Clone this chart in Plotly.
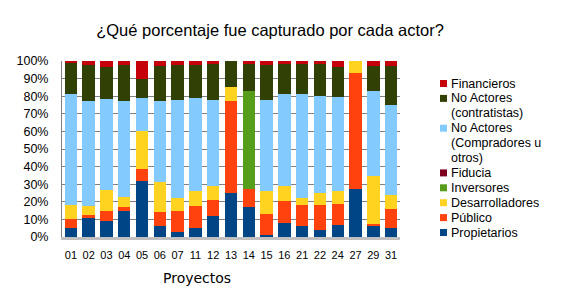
import plotly.graph_objects as go

proyectos = ["01", "02", "03", "04", "05", "06", "07", "11", "12", "13",
             "14", "15", "16", "21", "22", "24", "27", "29", "31"]

propietarios    = [5, 11, 9, 15, 32, 6, 3, 5, 12, 25, 17, 1, 8, 6, 4, 7, 27.5, 6, 5]
publico         = [5, 1.5, 5.5, 2, 6.5, 8, 11.5, 12.5, 9, 52, 10.5, 12, 12.5, 12, 14, 12, 65.5, 1.5, 11]
desarrolladores = [8, 5, 12, 6, 22, 17, 7.5, 8.5, 8, 8.5, 0, 13, 8.5, 4, 7, 7, 7, 27, 8]
inversores      = [0, 0, 0, 0, 0, 0, 0, 0, 0, 0, 55.5, 0, 0, 0, 0, 0, 0, 0, 0]
fiducia         = [0] * 19
no_act_compr    = [63, 59.5, 52, 54, 18.5, 46, 56, 53, 49, 0, 0, 52, 52, 59, 55, 53.5, 0, 48.5, 51]
no_act_contr    = [18, 21, 18, 21, 10.5, 20, 20, 19, 20.5, 14.5, 15.5, 20, 17.5, 17.5, 18.5, 17, 0, 14, 22]
financieros     = [1, 2, 3.5, 2, 10.5, 3, 2, 2, 1.5, 0, 1.5, 2, 1.5, 1.5, 1.5, 3.5, 0, 3, 3]

series = [
    ("Propietarios", propietarios, "#004586"),
    ("Público", publico, "#ff420e"),
    ("Desarrolladores", desarrolladores, "#ffd320"),
    ("Inversores", inversores, "#579d1c"),
    ("Fiducia", fiducia, "#7e0021"),
    ("No Actores<br>(Compradores u<br>otros)", no_act_compr, "#83caff"),
    ("No Actores<br>(contratistas)", no_act_contr, "#314004"),
    ("Financieros", financieros, "#c5000b"),
]

y_ticks = list(range(0, 101, 10))
y_labels = [f"{v}%" for v in y_ticks]

W, H = 563, 296
ML, MR, MT, MB = 62, 163, 61, 59
PW, PH = W - ML - MR, H - MT - MB


def px_x(x):
    return (x - ML) / PW


def px_y(y):
    return (H - MB - y) / PH


fig = go.Figure()
for name, vals, color in series:
    fig.add_trace(go.Bar(x=proyectos, y=vals, name=name, marker_color=color,
                         marker_line_width=0, showlegend=False))

# Legend drawn as real text entries (top to bottom = reversed stack order)
annotations = []
shapes = []
line_h = 14.9
y_cur = 83.5
for name, vals, color in reversed(series):
    lines = name.split("<br>")
    shapes.append(dict(type="rect", xref="paper", yref="paper",
                       x0=px_x(440), x1=px_x(447), y0=px_y(y_cur + 3.5), y1=px_y(y_cur - 3.5),
                       fillcolor=color, line_width=0))
    for ln in lines:
        annotations.append(dict(text=ln, xref="paper", yref="paper",
                                x=px_x(449), y=px_y(y_cur), xanchor="left", yanchor="middle",
                                align="left", showarrow=False,
                                font=dict(size=12.5, family="Liberation Sans", color="black")))
        y_cur += line_h

annotations.append(dict(text="Proyectos", xref="paper", yref="paper",
                        x=px_x(197), y=px_y(278), xanchor="center", yanchor="middle",
                        showarrow=False,
                        font=dict(size=14, family="DejaVu Sans", color="black")))

fig.update_layout(
    width=W, height=H,
    barmode="stack", bargap=0.3,
    paper_bgcolor="white", plot_bgcolor="white",
    margin=dict(l=ML, r=MR, t=MT, b=MB, autoexpand=False),
    title=dict(text="¿Qué porcentaje fue capturado por cada actor?",
               x=270 / W, xanchor="center", y=1 - 30 / H, yanchor="middle",
               font=dict(family="Liberation Sans", size=16.5, color="black")),
    font=dict(family="Liberation Sans", color="black"),
    showlegend=False,
    annotations=annotations,
    shapes=shapes,
)
fig.update_yaxes(range=[0, 100], tickvals=y_ticks, ticktext=y_labels,
                 showgrid=True, gridcolor="#808080", gridwidth=1,
                 showline=True, linecolor="#808080", ticks="",
                 ticklabelstandoff=10,
                 tickfont=dict(size=12.5, family="Liberation Sans"))
fig.update_xaxes(type="category", showline=True, linecolor="#c0c0c0", linewidth=3,
                 ticklabelstandoff=6,
                 tickfont=dict(size=11, family="Liberation Sans"))

fig.write_html("out.html", config={"displayModeBar": False},
               post_script="document.body.style.margin='0';")
